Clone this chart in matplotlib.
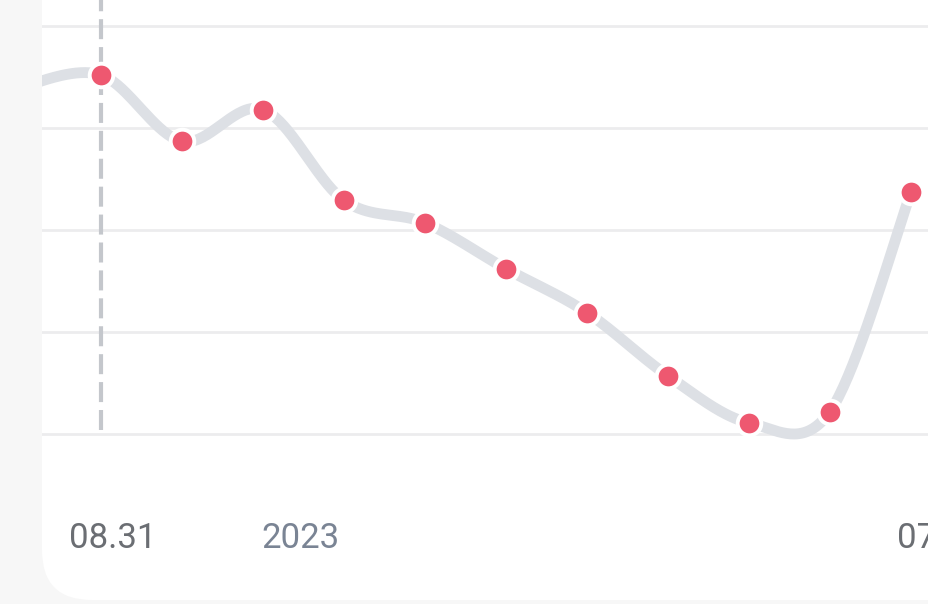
import matplotlib.pyplot as plt
import numpy as np
from matplotlib.patches import FancyBboxPatch
from matplotlib.transforms import IdentityTransform

# data: first value sits just left of the card edge, so it is clipped
idx = np.arange(12)
values = [34.0, 35.2, 28.7, 31.8, 22.9, 20.7, 16.2, 11.9, 5.7, 1.1, 2.2, 23.7]
grid_values = [0, 10, 20, 30, 40]
labels = ["08.31", "2023", "07"]
label_pos = [1.15, 3.46, 10.83]
label_colors = ["#6b6e73", "#7a8494", "#6b6e73"]
label_align = ["center", "center", "left"]
marker_from = 1  # visible markers start here
selected = 1  # dashed indicator


def catmull_rom(x, y, steps=40):
    """Smooth line through the points (uniform Catmull-Rom)."""
    x = np.asarray(x, float)
    y = np.asarray(y, float)
    px = np.concatenate([[x[0]], x, [x[-1]]])
    py = np.concatenate([[y[0]], y, [y[-1]]])
    out_x, out_y = [], []
    t = np.linspace(0, 1, steps)
    for i in range(1, len(px) - 2):
        for arr, out in ((px, out_x), (py, out_y)):
            p0, p1, p2, p3 = arr[i - 1], arr[i], arr[i + 1], arr[i + 2]
            out.extend(0.5 * ((2 * p1) + (-p0 + p2) * t
                              + (2 * p0 - 5 * p1 + 4 * p2 - p3) * t ** 2
                              + (-p0 + 3 * p1 - 3 * p2 + p3) * t ** 3))
    return np.array(out_x), np.array(out_y)


fig = plt.figure(figsize=(9.29, 6.04), dpi=100, facecolor="#f7f7f7")

# white card with rounded bottom-left corner (pixel coordinates)
card = FancyBboxPatch((42, 4), 1000, 700, boxstyle="round,pad=0,rounding_size=50",
                      transform=IdentityTransform(), facecolor="white", edgecolor="none", zorder=-5)
fig.patches.append(card)

ax = fig.add_axes([42 / 929, 0, 1 - 42 / 929, 1])
ax.set_zorder(2)
ax.set_facecolor("none")
ax.set_xlim((42 - 20) / 81, (929 - 20) / 81)
ax.set_ylim((434 - 604) / 10.2, 434 / 10.2)
ax.axis("off")

for g in grid_values:
    ax.axhline(g, color="#ececee", lw=2, zorder=1)

ax.vlines(selected, (434 - 430) / 10.2, ax.get_ylim()[1], colors="#c4c7cc", lw=3,
          linestyles=(0, (4.8, 1.9)), zorder=2)

sx, sy = catmull_rom(idx, values)
ax.plot(sx, sy, color="#dde0e5", lw=7.8, solid_capstyle="round", zorder=3)
ax.plot(idx[marker_from:], values[marker_from:], "o", color="#ee5870", markersize=17,
        markeredgecolor="white", markeredgewidth=2.8, zorder=4)

for text, pos, col, ha in zip(labels, label_pos, label_colors, label_align):
    ax.text(pos, (434 - 538) / 10.2, text, color=col, fontsize=25, ha=ha, va="center",
            family="Roboto", clip_on=False)

plt.savefig("out.png", dpi=100, facecolor=fig.get_facecolor())
